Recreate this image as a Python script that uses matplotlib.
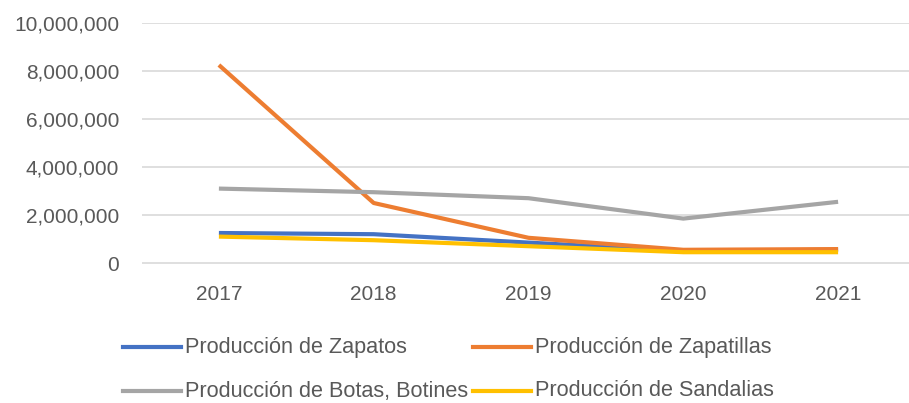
import matplotlib
matplotlib.use('Agg')
import matplotlib.pyplot as plt
from matplotlib.lines import Line2D
from matplotlib.ticker import FuncFormatter

# ── Data ─────────────────────────────────────────────────────────────────────
years      = ['2017', '2018', '2019', '2020', '2021']
zapatos    = [1250000, 1200000, 850000, 500000, 550000]
zapatillas = [8250000, 2500000, 1050000, 550000, 580000]
botas      = [3100000, 2950000, 2700000, 1850000, 2550000]
sandalias  = [1100000, 950000, 700000, 450000, 450000]
y_ticks    = [0, 2000000, 4000000, 6000000, 8000000, 10000000]

series = [
    ('Producción de Zapatos', zapatos, '#4472C4'),
    ('Producción de Zapatillas', zapatillas, '#ED7D31'),
    ('Producción de Botas, Botines', botas, '#A5A5A5'),
    ('Producción de Sandalias', sandalias, '#FFC000'),
]

plt.rcParams['font.family'] = ['Liberation Sans', 'DejaVu Sans']
TXT = '#595959'
W, H = 909, 403

fig = plt.figure(figsize=(W / 100, H / 100), dpi=100)
# axes in pixel terms: x from 141.5 to 915.5, y from 23 to 266.6
ax = fig.add_axes([141.5 / W, 1 - 266.6 / H, 774 / W, (266.6 - 23) / H])

x = list(range(len(years)))
for label, vals, color in series:
    ax.plot(x, vals, color=color, lw=3.0, label=label, solid_capstyle='butt')

ax.set_xlim(-0.5, 4.5)
ax.set_ylim(-150000, 10000000)
ax.set_xticks(x)
ax.set_xticklabels(years)
ax.set_yticks(y_ticks)
ax.yaxis.set_major_formatter(FuncFormatter(lambda v, p: f'{int(v):,}'))
ax.grid(axis='y', color='#D9D9D9', lw=1.2)
ax.set_axisbelow(True)
for s in ax.spines.values():
    s.set_visible(False)
ax.tick_params(length=0, labelsize=15, colors=TXT)
ax.tick_params(axis='y', pad=16)
ax.tick_params(axis='x', pad=13)

# ── Legend, Excel style (2 columns, row-wise) ────────────────────────────────
col_x  = [123, 473]   # line start, px
row_y  = [347, 391]   # px from top
for i, (label, vals, color) in enumerate(series):
    lx = col_x[i % 2]
    ly = 1 - row_y[i // 2] / H
    fig.add_artist(Line2D([lx / W, (lx + 58) / W], [ly, ly], color=color, lw=3.0,
                          transform=fig.transFigure, zorder=1))
    fig.text((lx + 62) / W, ly, label, fontsize=15.6, color=TXT, va='center', ha='left',
             zorder=2, bbox=dict(facecolor='white', edgecolor='none', pad=0.5))

fig.savefig('out.png', dpi=100)
